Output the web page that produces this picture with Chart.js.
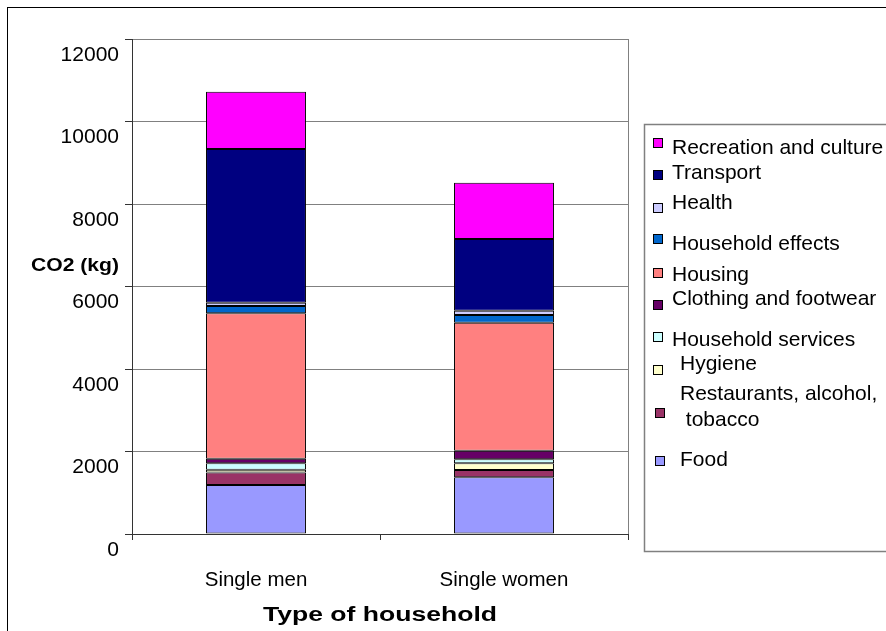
<!DOCTYPE html>
<html>
<head>
<meta charset="utf-8">
<script src="https://cdn.jsdelivr.net/npm/chart.js@4/dist/chart.umd.min.js"></script>
<style>
  html, body { margin: 0; padding: 0; background: #ffffff; }
  #wrap { width: 886px; height: 631px; position: relative; }
</style>
</head>
<body>
<div id="wrap"><canvas id="c" width="886" height="631"></canvas></div>
<script>
// Household categories on the x axis
const categories = ['Single men', 'Single women'];

// CO2 emissions (kg) per consumption group, one value per household type
const food              = [1190, 1375];
const restaurants       = [300, 178];
const hygiene           = [65, 160];
const householdServices = [160, 97];
const clothing          = [110, 210];
const housing           = [3525, 3103];
const householdEffects  = [177, 186];
const health            = [80, 105];
const transport         = [3725, 1738];
const recreation        = [1390, 1365];

// Y axis ticks
const yTicks = [0, 2000, 4000, 6000, 8000, 10000, 12000];

const FONT = "'Liberation Sans', Arial, sans-serif";

// Bottom-to-top stacking order
const series = [
  { label: 'Food',                            data: food,              color: '#9999FF' },
  { label: 'Restaurants, alcohol,\n tobacco', data: restaurants,       color: '#993366' },
  { label: 'Hygiene',                         data: hygiene,           color: '#FFFFCC' },
  { label: 'Household services',              data: householdServices, color: '#CCFFFF' },
  { label: 'Clothing and footwear',           data: clothing,          color: '#660066' },
  { label: 'Housing',                         data: housing,           color: '#FF8080' },
  { label: 'Household effects',               data: householdEffects,  color: '#0066CC' },
  { label: 'Health',                          data: health,            color: '#CCCCFF' },
  { label: 'Transport',                       data: transport,         color: '#000080' },
  { label: 'Recreation and culture',          data: recreation,        color: '#FF00FF' }
];

// Legend entry placement (marker box and text start), listed top to bottom
const legendSlots = [
  { mx: 653, my: 138, tx: 672, ty: 148 },
  { mx: 653, my: 170, tx: 672, ty: 173 },
  { mx: 653, my: 203, tx: 672, ty: 203 },
  { mx: 653, my: 234, tx: 672, ty: 244 },
  { mx: 653, my: 268, tx: 672, ty: 275 },
  { mx: 653, my: 300, tx: 672, ty: 299 },
  { mx: 653, my: 332, tx: 672, ty: 340 },
  { mx: 653, my: 365, tx: 680, ty: 364 },
  { mx: 655, my: 408, tx: 680, ty: 394 },
  { mx: 655, my: 456, tx: 680, ty: 460 }
];

// Draw a line of text stretched to a given width, centred on cx
function wideText(ctx, text, cx, cy, width) {
  const w = ctx.measureText(text).width;
  const sx = width / w;
  ctx.save();
  ctx.translate(cx, cy);
  ctx.scale(sx, 1);
  ctx.textAlign = 'center';
  ctx.textBaseline = 'middle';
  ctx.fillText(text, 0, 0);
  ctx.restore();
}

const frame = {
  id: 'frame',
  beforeDatasetsDraw(chart) {
    const { ctx, chartArea: a } = chart;
    ctx.save();
    // plot area right edge
    ctx.strokeStyle = '#808080';
    ctx.lineWidth = 1;
    ctx.beginPath();
    ctx.moveTo(Math.round(a.right) + 0.5, a.top);
    ctx.lineTo(Math.round(a.right) + 0.5, a.bottom);
    ctx.stroke();
    ctx.restore();
  },
  afterDraw(chart) {
    const { ctx, chartArea: a } = chart;
    ctx.save();
    // outer chart border
    ctx.strokeStyle = '#000000';
    ctx.lineWidth = 1;
    ctx.strokeRect(7.5, 7.5, 1000, 1000);

    // axis captions
    ctx.fillStyle = '#000000';
    ctx.font = 'bold 19px ' + FONT;
    wideText(ctx, 'CO2 (kg)', 75, 266, 88);
    ctx.font = 'bold 20px ' + FONT;
    wideText(ctx, 'Type of household', (a.left + a.right) / 2, 615, 234);

    // legend box
    ctx.strokeStyle = '#808080';
    ctx.lineWidth = 1.5;
    ctx.strokeRect(644.5, 124.5, 400, 427);

    // legend entries, top of stack first
    const ds = chart.data.datasets.slice().reverse();
    ctx.font = '21px ' + FONT;
    ctx.textAlign = 'left';
    ctx.textBaseline = 'middle';
    ds.forEach((d, i) => {
      const s = legendSlots[i];
      ctx.fillStyle = d.backgroundColor;
      ctx.fillRect(s.mx, s.my, 10, 10);
      ctx.strokeStyle = '#000000';
      ctx.lineWidth = 1;
      ctx.strokeRect(s.mx + 0.5, s.my + 0.5, 9, 9);
      ctx.fillStyle = '#000000';
      const lines = d.label.split('\n');
      lines.forEach((ln, j) => ctx.fillText(ln, s.tx, s.ty + j * 26));
    });
    ctx.restore();
  }
};

new Chart(document.getElementById('c'), {
  type: 'bar',
  data: {
    labels: categories,
    datasets: series.map(s => ({
      label: s.label,
      data: s.data,
      backgroundColor: s.color,
      borderColor: '#000000',
      borderWidth: 1,
      borderSkipped: false,
      categoryPercentage: 1.0,
      barPercentage: 0.403
    }))
  },
  options: {
    responsive: false,
    animation: false,
    devicePixelRatio: 1,
    layout: { padding: { left: 0, top: 39, right: 258, bottom: 0 } },
    plugins: {
      legend: { display: false },
      tooltip: { enabled: false },
      title: { display: false }
    },
    scales: {
      x: {
        stacked: true,
        offset: true,
        grid: {
          display: true,
          offset: true,
          drawOnChartArea: false,
          drawTicks: true,
          tickLength: 6,
          tickColor: '#333333'
        },
        border: { display: true, color: '#333333', width: 1 },
        ticks: {
          color: '#000000',
          font: { family: FONT, size: 20.5 },
          padding: 28,
          maxRotation: 0
        },
        afterFit(scale) { scale.height = 97; }
      },
      y: {
        stacked: true,
        min: 0,
        max: 12000,
        afterBuildTicks(scale) { scale.ticks = yTicks.map(v => ({ value: v })); },
        grid: {
          color: '#808080',
          lineWidth: 1,
          tickLength: 7,
          tickColor: '#333333'
        },
        border: { display: true, color: '#333333', width: 1 },
        ticks: {
          color: '#000000',
          font: { family: FONT, size: 21 },
          padding: 6,
          labelOffset: 16,
          callback: v => String(v)
        },
        afterFit(scale) { scale.width = 132; }
      }
    }
  },
  plugins: [frame]
});
</script>
</body>
</html>
